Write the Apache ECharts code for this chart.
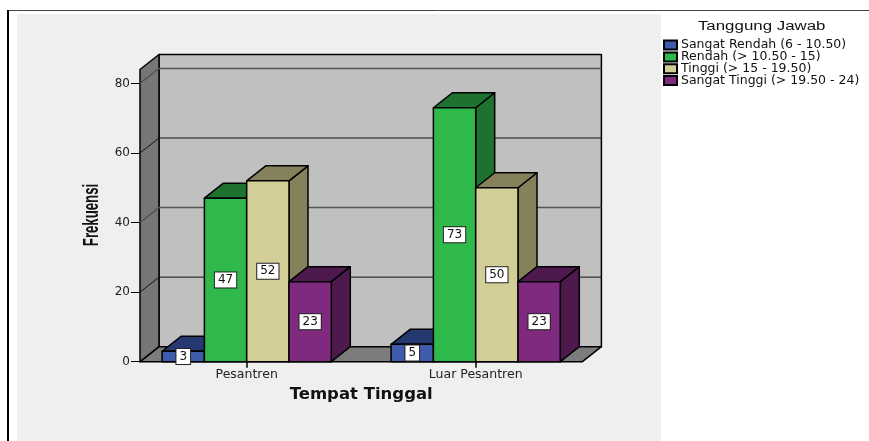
<!DOCTYPE html>
<html>
<head>
<meta charset="utf-8">
<style>
  html, body { margin: 0; padding: 0; background: #fff; }
  #chart { width: 869px; height: 441px; }
</style>
</head>
<body>
<div id="chart"></div>
<script src="https://cdn.jsdelivr.net/npm/echarts@6/dist/echarts.min.js"></script>
<script>
var categories = ['Pesantren', 'Luar Pesantren'];
var sangatRendah = [3, 5];
var rendah = [47, 73];
var tinggi = [52, 50];
var sangatTinggi = [23, 23];
var yTicks = [0, 20, 40, 60, 80];
var yMax = 84;

var names = ['Sangat Rendah (6 - 10.50)', 'Rendah (> 10.50 - 15)', 'Tinggi (> 15 - 19.50)', 'Sangat Tinggi (> 19.50 - 24)'];
var values = [sangatRendah, rendah, tinggi, sangatTinggi];
var faceColors = ['#3E5BAC', '#2FB94A', '#D3CE97', '#7F2A7E'];
var darkColors = ['#253870', '#1C722E', '#85825B', '#4E1A4E'];

// kedalaman 3D
var depthX = 19;
var depthY = 15;
var wallInset = 7.8;
var barWidth = 42.3;
var textFont = '"DejaVu Sans", sans-serif';

function poly(points, fill, stroke) {
  return {
    type: 'polygon',
    shape: { points: points },
    style: { fill: fill, stroke: stroke || '#000', lineWidth: 1.5, lineJoin: 'round' }
  };
}

// dinding, lantai dan garis bantu
function renderWalls(params, api) {
  var sys = params.coordSys;
  var left = sys.x + wallInset;
  var right = sys.x + sys.width - wallInset;
  var top = sys.y;
  var bottom = sys.y + sys.height;
  var kids = [
    poly([[left + depthX, top - depthY], [right + depthX, top - depthY], [right + depthX, bottom - depthY], [left + depthX, bottom - depthY]], '#C0C0C0'),
    poly([[left, bottom], [left + depthX, bottom - depthY], [right + depthX, bottom - depthY], [right, bottom]], '#7C7C7C'),
    poly([[left, top], [left + depthX, top - depthY], [left + depthX, bottom - depthY], [left, bottom]], '#767676')
  ];
  for (var i = 1; i < yTicks.length; i++) {
    var y = api.coord([0, yTicks[i]])[1];
    kids.push({
      type: 'polyline',
      shape: { points: [[left, y], [left + depthX, y - depthY], [right + depthX, y - depthY]] },
      style: { fill: null, stroke: i % 2 == 0 ? '#555' : '#111', lineWidth: i % 2 == 0 ? 1.5 : 1 }
    });
  }
  return { type: 'group', children: kids };
}

function renderBar(params, api) {
  var s = params.seriesIndex - 1;
  var center = api.coord([api.value(0), 0])[0];
  var base = api.coord([api.value(0), 0])[1];
  var top = api.coord([api.value(0), api.value(1)])[1];
  var x0 = center + (s - 2) * barWidth;
  var x1 = x0 + barWidth;
  return {
    type: 'group',
    children: [
      poly([[x1, top], [x1 + depthX, top - depthY], [x1 + depthX, base - depthY], [x1, base]], darkColors[s]),
      poly([[x0, top], [x0 + depthX, top - depthY], [x1 + depthX, top - depthY], [x1, top]], darkColors[s]),
      poly([[x0, top], [x1, top], [x1, base], [x0, base]], faceColors[s]),
      {
        type: 'text',
        z2: 10,
        style: {
          x: (x0 + x1) / 2,
          y: (top + base) / 2,
          text: String(api.value(1)),
          align: 'center',
          verticalAlign: 'middle',
          font: '12px ' + textFont,
          fill: '#111',
          backgroundColor: '#fff',
          borderColor: '#222',
          borderWidth: 1,
          padding: [1.5, 3]
        }
      }
    ]
  };
}

var series = [{
  type: 'custom',
  name: 'walls',
  renderItem: renderWalls,
  data: [[0, 0]],
  silent: true,
  z: 1
}];
for (var i = 0; i < names.length; i++) {
  series.push({
    type: 'custom',
    name: names[i],
    renderItem: renderBar,
    encode: { x: 0, y: 1 },
    itemStyle: { color: faceColors[i], borderColor: '#000', borderWidth: 1 },
    data: values[i].map(function (v, k) { return [k, v]; }),
    z: 2 + i
  });
}

var myChart = echarts.init(document.getElementById('chart'), null, { renderer: 'canvas' });
myChart.setOption({
  animation: false,
  backgroundColor: '#fff',
  graphic: [
    { type: 'rect', z: -10, shape: { x: 17, y: 14, width: 644, height: 427 }, style: { fill: '#EFEFEF' } },
    { type: 'line', z: -9, shape: { x1: 8, y1: 10.5, x2: 869, y2: 10.5 }, style: { stroke: '#444', lineWidth: 1 } },
    { type: 'line', z: -9, shape: { x1: 8, y1: 10, x2: 8, y2: 441 }, style: { stroke: '#000', lineWidth: 2 } },
    // judul legenda dan sumbu Y: hurufnya melar di gambar asli
    {
      type: 'text', z: 20, x: 761.7, y: 27, scaleX: 1.35,
      style: { text: 'Tanggung Jawab', align: 'center', verticalAlign: 'middle', font: '12.5px "Liberation Sans", sans-serif', fill: '#111' }
    },
    {
      type: 'text', z: 20, x: 92, y: 215, rotation: Math.PI / 2, scaleX: 0.6,
      style: { text: 'Frekuensi', align: 'center', verticalAlign: 'middle', font: 'bold 22px "Liberation Sans", sans-serif', fill: '#111' }
    }
  ],
  legend: {
    orient: 'vertical',
    left: 663,
    top: 38.6,
    padding: 0,
    itemWidth: 13,
    itemHeight: 9,
    itemGap: -1.2,
    data: names,
    icon: 'rect',
    selectedMode: false,
    textStyle: { fontFamily: textFont, fontSize: 12.5, lineHeight: 11, color: '#111', padding: [0, 0, 0, -1] }
  },
  grid: { left: 132.2, top: 69.5, width: 458, height: 292.2 },
  xAxis: {
    type: 'category',
    data: categories,
    z: 10,
    name: 'Tempat Tinggal',
    nameLocation: 'middle',
    nameGap: 24,
    nameTextStyle: { fontFamily: textFont, fontSize: 16.5, fontWeight: 'bold', color: '#111' },
    axisLine: { show: false },
    axisTick: { show: true, alignWithLabel: true, length: 6, lineStyle: { color: '#000', width: 1.5 } },
    axisLabel: { fontFamily: textFont, fontSize: 12.5, color: '#222', margin: 7 }
  },
  yAxis: {
    type: 'value',
    min: 0,
    max: yMax,
    offset: -wallInset,
    z: 10,
    splitLine: { show: false },
    axisLine: { show: false },
    axisTick: { show: true, length: 9, customValues: yTicks, lineStyle: { color: '#000' } },
    axisLabel: { fontFamily: textFont, fontSize: 12, color: '#222', margin: 10, customValues: yTicks }
  },
  series: series
});
</script>
</body>
</html>
